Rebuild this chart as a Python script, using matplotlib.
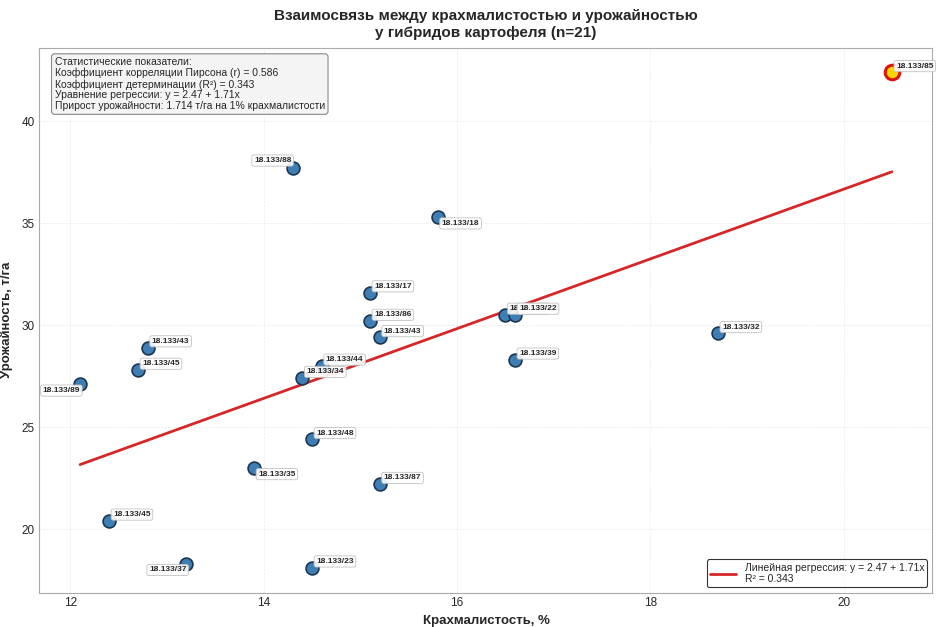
# Starch content vs yield for potato hybrids
import matplotlib.pyplot as plt

hybrids = ['18.133/85', '18.133/88', '18.133/18', '18.133/17', '18.133/86',
           '18.133/43', '18.133/21', '18.133/22', '18.133/32', '18.133/39',
           '18.133/43', '18.133/45', '18.133/89', '18.133/44', '18.133/34',
           '18.133/48', '18.133/35', '18.133/87', '18.133/45', '18.133/37',
           '18.133/23']
starch = [20.5, 14.3, 15.8, 15.1, 15.1, 15.2, 16.5, 16.6, 18.7, 16.6,
          12.8, 12.7, 12.1, 14.6, 14.4, 14.5, 13.9, 15.2, 12.4, 13.2, 14.5]
yield_t = [42.4, 37.7, 35.3, 31.6, 30.2, 29.4, 30.5, 30.5, 29.6, 28.3,
           28.9, 27.8, 27.1, 28.0, 27.4, 24.4, 23.0, 22.2, 20.4, 18.3, 18.1]

intercept = 2.47
slope = 1.71
r_value = 0.586
r2_value = 0.343
gain = 1.714
best = '18.133/85'

plt.style.use('seaborn-v0_8-whitegrid')
plt.rcParams['font.family'] = ['Liberation Sans', 'DejaVu Sans']


def starch_yield_plot():
    fig, ax = plt.subplots(figsize=(9.4, 6.27), dpi=100)
    fig.subplots_adjust(left=0.042, right=0.992, top=0.924, bottom=0.055)

    ax.scatter(starch, yield_t, s=85, c='#3d7fb5', edgecolors='#1c3550',
               linewidths=1.2, zorder=3)
    i = hybrids.index(best)
    ax.scatter([starch[i]], [yield_t[i]], s=110, c='#ffd700', edgecolors='#e01010',
               linewidths=2.2, zorder=4)

    xs = [min(starch), max(starch)]
    ax.plot(xs, [intercept + slope * x for x in xs], color='#d62728', lw=2,
            label=f'Линейная регрессия: y = {intercept} + {slope}x\nR² = {r2_value}', zorder=2)

    # label placement tweaks (offset in points, alignment)
    special = {1: ((-1, 3), 'right', 'bottom'),
               2: ((3, -2), 'left', 'top'),
               12: ((0, -2), 'right', 'top'),
               16: ((3, -2), 'left', 'top'),
               19: ((0, -2), 'right', 'top')}
    for k, (name, x, y) in enumerate(zip(hybrids, starch, yield_t)):
        off, ha, va = special.get(k, ((3, 2), 'left', 'bottom'))
        ax.annotate(name, (x, y), xytext=off, textcoords='offset points',
                    ha=ha, va=va, fontsize=6, fontweight='bold',
                    bbox=dict(boxstyle='round,pad=0.25', fc='white', ec='#bbbbbb', lw=0.6, alpha=0.9),
                    zorder=5)

    stats = ('Статистические показатели:\n'
             f'Коэффициент корреляции Пирсона (r) = {r_value}\n'
             f'Коэффициент детерминации (R²) = {r2_value}\n'
             f'Уравнение регрессии: y = {intercept} + {slope}x\n'
             f'Прирост урожайности: {gain} т/га на 1% крахмалистости')
    ax.text(0.017, 0.983, stats, transform=ax.transAxes, fontsize=7.5, va='top',
            linespacing=1.1,
            bbox=dict(boxstyle='round,pad=0.3', fc='#f4f4f4', ec='#888888', lw=0.8))

    ax.set_title('Взаимосвязь между крахмалистостью и урожайностью\nу гибридов картофеля (n=21)',
                 fontsize=11, fontweight='bold', pad=8)
    ax.set_xlabel('Крахмалистость, %', fontsize=9.5, fontweight='bold', labelpad=4)
    ax.set_ylabel('Урожайность, т/га', fontsize=9.5, fontweight='bold', labelpad=6)
    ax.tick_params(labelsize=8.5)
    ax.grid(True, alpha=0.4, linestyle='--', lw=0.5)
    for s in ax.spines.values():
        s.set_edgecolor('#aaaaaa')
        s.set_linewidth(0.8)

    leg = ax.legend(loc='lower right', fontsize=7.5, frameon=True, fancybox=True,
                    borderpad=0.3, handlelength=2.5)
    leg.get_frame().set_edgecolor('black')
    leg.get_frame().set_linewidth(0.8)

    fig.savefig('out.png', dpi=100)


if __name__ == "__main__":
    starch_yield_plot()
